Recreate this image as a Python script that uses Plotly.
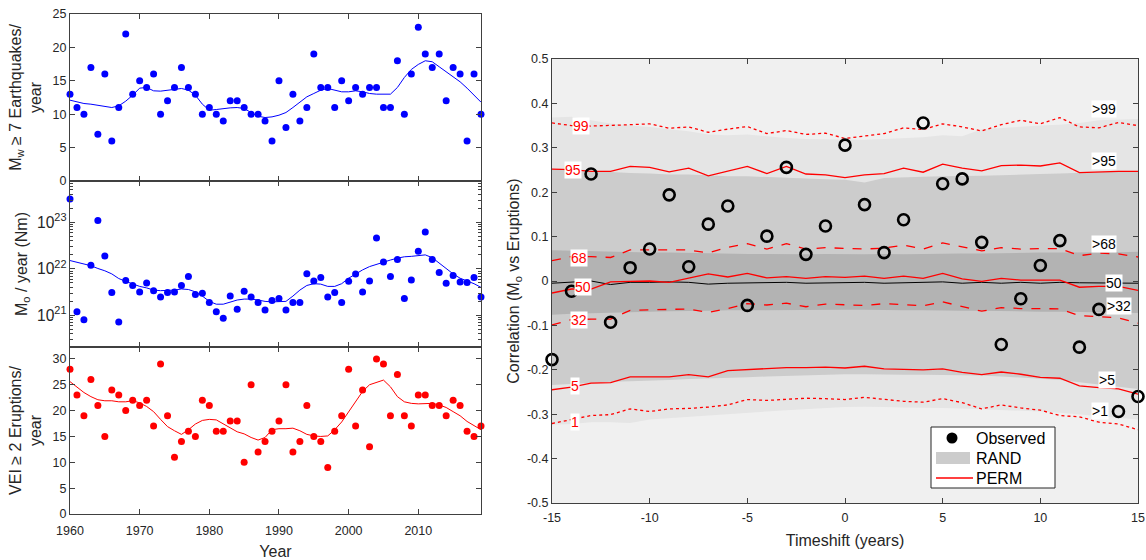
import plotly.graph_objects as go

# ---------------- data: left panels ----------------
years = list(range(1960, 2020))

eq_counts = [13, 11, 10, 17, 7, 16, 6, 11, 22, 13,
             15, 14, 16, 10, 12, 14, 17, 14, 13, 10,
             11, 10, 9, 12, 12, 11, 10, 10, 9, 6,
             15, 8, 13, 9, 11, 19, 14, 14, 11, 15,
             12, 14, 13, 14, 14, 11, 11, 18, 10, 16,
             23, 19, 17, 19, 12, 17, 16, 6, 16, 10]
eq_smooth = [12.1, 11.8, 11.6, 11.5, 11.35, 11.2, 11.0, 11.25, 11.95, 12.85,
             13.9, 14.0, 13.5, 13.45, 13.6, 13.75, 13.85, 13.6, 12.85, 11.5,
             10.6, 10.7, 10.85, 10.95, 11.0, 10.85, 10.25, 9.7, 9.5, 9.6,
             9.85, 10.25, 11.0, 11.85, 12.6, 13.1, 13.6, 13.85, 13.6, 13.35,
             13.35, 13.5, 13.35, 13.1, 13.0, 13.0, 13.0, 14.0, 15.5, 16.7,
             17.45, 18.0, 17.85, 17.1, 16.35, 15.6, 14.85, 13.9, 12.9, 11.8]

mo_values = [3.2e23, 1.2e21, 8.1e20, 1.2e22, 1.1e23, 1.9e22, 3.1e21, 7.2e20, 5.6e21, 4.4e21,
             3.2e21, 5.0e21, 3.4e21, 2.5e21, 3.1e21, 3.2e21, 4.4e21, 6.9e21, 2.8e21, 3.0e21,
             1.9e21, 1.2e21, 8.7e20, 2.6e21, 1.35e21, 3.3e21, 2.5e21, 1.9e21, 1.3e21, 2.1e21,
             2.3e21, 1.3e21, 1.9e21, 1.9e21, 7.9e21, 5.5e21, 6.5e21, 2.5e21, 3.1e21, 1.9e21,
             5.4e21, 7.8e21, 3.2e21, 5.5e21, 4.6e22, 1.4e22, 6.9e21, 1.6e22, 2.3e21, 5.8e21,
             2.4e22, 6.2e22, 1.6e22, 8.4e21, 4.9e21, 7.2e21, 5.2e21, 5.1e21, 6.5e21, 2.5e21]
mo_smooth = [1.51e22, 1.38e22, 1.29e22, 1.17e22, 1.02e22, 9.1e21, 7.8e21, 6.2e21, 5.4e21, 4.7e21,
             4.2e21, 3.9e21, 3.5e21, 3.4e21, 3.4e21, 3.5e21, 3.7e21, 3.6e21, 3.2e21, 2.6e21,
             2.0e21, 1.74e21, 1.74e21, 1.95e21, 2.14e21, 2.24e21, 2.24e21, 2.14e21, 2.0e21, 1.95e21,
             1.95e21, 2.0e21, 2.6e21, 3.5e21, 4.4e21, 4.8e21, 4.7e21, 4.2e21, 4.2e21, 4.8e21,
             6.3e21, 7.8e21, 9.5e21, 1.12e22, 1.26e22, 1.38e22, 1.55e22, 1.7e22, 1.82e22, 1.86e22,
             1.95e22, 2.0e22, 1.74e22, 1.32e22, 1.0e22, 7.8e21, 6.3e21, 5.5e21, 4.8e21, 4.0e21]

vei_counts = [28, 23, 19, 26, 21, 15, 24, 23, 20, 22,
              21, 22, 17, 29, 19, 11, 14, 16, 15, 22,
              21, 16, 16, 18, 18, 10, 25, 12, 14, 16,
              18, 25, 12, 14, 21, 15, 14, 9, 16, 19,
              28, 17, 24, 13, 30, 29, 19, 27, 19, 17,
              23, 23, 21, 21, 19, 22, 21, 16, 15, 17]
vei_smooth = [25.6, 24.5, 23.5, 22.7, 22.1, 21.9, 21.9, 21.7, 21.7, 21.9,
              21.5, 20.8, 19.8, 18.3, 16.9, 16.1, 15.4, 16.3, 17.4, 18.1,
              18.3, 18.2, 17.4, 16.6, 15.9, 15.5, 14.8, 14.3, 14.8, 16.3,
              16.5, 16.5, 16.6, 16.1, 15.4, 15.1, 15.0, 15.1, 16.3, 17.8,
              19.8, 21.7, 23.7, 25.0, 25.4, 25.9, 24.6, 22.7, 21.7, 21.4,
              21.3, 21.3, 21.4, 21.1, 20.6, 19.8, 19.0, 17.9, 17.1, 16.3]

year_ticks = [1960, 1970, 1980, 1990, 2000, 2010]

# ---------------- data: right panel ----------------
timeshift = list(range(-15, 16))
observed = [-0.177, -0.023, 0.241, -0.093, 0.030, 0.072, 0.194, 0.032, 0.128, 0.169,
            -0.055, 0.101, 0.256, 0.060, 0.124, 0.306, 0.172, 0.064, 0.138, 0.356,
            0.219, 0.230, 0.087, -0.143, -0.040, 0.035, 0.091, -0.149, -0.064, -0.294, -0.260]

rand99 = [0.368, 0.370, 0.362, 0.355, 0.350, 0.347, 0.342, 0.337, 0.330, 0.328, 0.330, 0.326,
          0.322, 0.320, 0.319, 0.318, 0.318, 0.320, 0.322, 0.324, 0.328, 0.326, 0.342, 0.345,
          0.348, 0.350, 0.352, 0.356, 0.362, 0.364, 0.365]
rand95 = [0.251, 0.252, 0.248, 0.245, 0.243, 0.242, 0.240, 0.240, 0.238, 0.236, 0.236, 0.234,
          0.232, 0.230, 0.229, 0.228, 0.222, 0.232, 0.234, 0.235, 0.236, 0.236, 0.237, 0.238,
          0.240, 0.241, 0.242, 0.243, 0.245, 0.247, 0.248]
rand68 = [0.069, 0.068, 0.066, 0.065, 0.065, 0.064, 0.064, 0.063, 0.062, 0.062, 0.061, 0.061,
          0.060, 0.060, 0.061, 0.060, 0.060, 0.061, 0.060, 0.061, 0.062, 0.062, 0.062, 0.063,
          0.063, 0.064, 0.064, 0.064, 0.065, 0.065, 0.066]
rand50 = [-0.005, -0.002, 0.000, -0.008, -0.003, -0.003, -0.002, -0.003, -0.007, -0.005, -0.004,
          -0.004, -0.003, -0.005, -0.004, -0.003, -0.003, -0.005, -0.004, -0.002, -0.002, -0.005,
          -0.003, -0.005, -0.003, -0.005, -0.003, -0.004, -0.004, -0.004, -0.005]
rand32 = [-0.076, -0.074, -0.073, -0.072, -0.070, -0.069, -0.068, -0.067, -0.067, -0.066, -0.066,
          -0.066, -0.065, -0.065, -0.065, -0.065, -0.065, -0.065, -0.066, -0.066, -0.066, -0.067,
          -0.067, -0.068, -0.068, -0.069, -0.069, -0.070, -0.070, -0.071, -0.072]
rand5 = [-0.234, -0.232, -0.229, -0.227, -0.226, -0.225, -0.223, -0.221, -0.219, -0.218, -0.217,
         -0.215, -0.213, -0.212, -0.211, -0.210, -0.210, -0.210, -0.211, -0.211, -0.211, -0.212,
         -0.213, -0.215, -0.217, -0.220, -0.223, -0.227, -0.232, -0.238, -0.243]
rand1 = [-0.324, -0.322, -0.318, -0.318, -0.320, -0.312, -0.309, -0.306, -0.303, -0.300, -0.297,
         -0.294, -0.291, -0.288, -0.286, -0.284, -0.283, -0.284, -0.285, -0.286, -0.286, -0.287,
         -0.288, -0.290, -0.292, -0.294, -0.297, -0.300, -0.304, -0.308, -0.312]

perm99 = [0.356, 0.350, 0.349, 0.350, 0.352, 0.354, 0.344, 0.347, 0.335, 0.342, 0.348, 0.332,
          0.339, 0.330, 0.333, 0.321, 0.326, 0.332, 0.345, 0.341, 0.354, 0.347, 0.338, 0.352,
          0.362, 0.354, 0.368, 0.347, 0.345, 0.357, 0.350]
perm95 = [0.252, 0.251, 0.247, 0.247, 0.258, 0.256, 0.246, 0.254, 0.237, 0.247, 0.258, 0.242,
          0.258, 0.241, 0.239, 0.233, 0.239, 0.242, 0.254, 0.245, 0.263, 0.254, 0.248, 0.260,
          0.261, 0.259, 0.266, 0.244, 0.246, 0.247, 0.247]
perm68 = [0.046, 0.055, 0.055, 0.053, 0.070, 0.070, 0.069, 0.070, 0.063, 0.076, 0.084, 0.072,
          0.084, 0.072, 0.075, 0.073, 0.072, 0.074, 0.081, 0.072, 0.086, 0.077, 0.068, 0.075,
          0.072, 0.073, 0.073, 0.057, 0.063, 0.061, 0.054]
perm50 = [-0.027, -0.018, -0.018, -0.002, -0.001, 0.000, -0.003, 0.006, 0.016, 0.009, 0.017,
          0.007, 0.010, 0.006, 0.010, 0.008, 0.011, 0.006, 0.011, 0.006, 0.017, 0.005, -0.001,
          0.006, 0.002, 0.002, 0.002, -0.014, -0.012, -0.012, -0.021]
perm32 = [-0.099, -0.087, -0.086, -0.086, -0.066, -0.065, -0.064, -0.063, -0.071, -0.062, -0.051,
          -0.054, -0.050, -0.058, -0.052, -0.053, -0.055, -0.051, -0.054, -0.056, -0.047, -0.057,
          -0.068, -0.060, -0.062, -0.062, -0.063, -0.078, -0.081, -0.083, -0.095]
perm5 = [-0.245, -0.239, -0.230, -0.229, -0.216, -0.216, -0.216, -0.211, -0.216, -0.202, -0.200,
         -0.197, -0.195, -0.195, -0.194, -0.196, -0.192, -0.198, -0.199, -0.200, -0.198, -0.206,
         -0.211, -0.205, -0.210, -0.217, -0.219, -0.236, -0.240, -0.243, -0.255]
perm1 = [-0.321, -0.312, -0.303, -0.301, -0.288, -0.294, -0.288, -0.287, -0.284, -0.279, -0.267,
         -0.269, -0.267, -0.264, -0.265, -0.267, -0.262, -0.267, -0.271, -0.273, -0.265, -0.274,
         -0.288, -0.279, -0.286, -0.291, -0.303, -0.306, -0.318, -0.322, -0.335]

left_labels = ["99", "95", "68", "50", "32", "5", "1"]
left_label_pos = [(-13.5, 0.350), (-13.9, 0.251), (-13.6, 0.051), (-13.4, -0.014),
                  (-13.6, -0.087), (-13.8, -0.236), (-13.8, -0.317)]
right_labels = [">99", ">95", ">68", "50", ">32", ">5", ">1"]
right_label_pos = [(13.25, 0.388), (13.25, 0.271), (13.25, 0.084), (13.75, -0.004),
                   (14.05, -0.056), (13.4, -0.222), (13.05, -0.292)]

legend_names = ["Observed", "RAND", "PERM"]

y_ticks_right = [-0.5, -0.4, -0.3, -0.2, -0.1, 0, 0.1, 0.2, 0.3, 0.4, 0.5]
y_ticktext_right = ["-0.5", "-0.4", "-0.3", "-0.2", "-0.1", "0", "0.1", "0.2", "0.3", "0.4", "0.5"]
x_ticks_right = [-15, -10, -5, 0, 5, 10, 15]
x_ticktext_right = ["-15", "-10", "-5", "0", "5", "10", "15"]

# ---------------- figure ----------------
W, H = 1146, 560
FONT = "Liberation Sans, Arial, Helvetica, sans-serif"
AXC = "#404040"
TXT = "#262626"
BLUE = "#0000ff"
RED = "#ff0000"


def dx(a, b):
    return [a / W, b / W]


def dy(top, bottom):
    return [1 - bottom / H, 1 - top / H]


fig = go.Figure()

# left panels
fig.add_trace(go.Scatter(x=years, y=eq_counts, mode="markers", xaxis="x", yaxis="y",
                         marker=dict(color=BLUE, size=7), showlegend=False, cliponaxis=False))
fig.add_trace(go.Scatter(x=years, y=eq_smooth, mode="lines", xaxis="x", yaxis="y",
                         line=dict(color=BLUE, width=1), showlegend=False))
fig.add_trace(go.Scatter(x=years, y=mo_values, mode="markers", xaxis="x2", yaxis="y2",
                         marker=dict(color=BLUE, size=7), showlegend=False, cliponaxis=False))
fig.add_trace(go.Scatter(x=years, y=mo_smooth, mode="lines", xaxis="x2", yaxis="y2",
                         line=dict(color=BLUE, width=1), showlegend=False))
fig.add_trace(go.Scatter(x=years, y=vei_counts, mode="markers", xaxis="x3", yaxis="y3",
                         marker=dict(color=RED, size=7), showlegend=False, cliponaxis=False))
fig.add_trace(go.Scatter(x=years, y=vei_smooth, mode="lines", xaxis="x3", yaxis="y3",
                         line=dict(color=RED, width=1), showlegend=False))


# right panel: RAND bands
def band(upper, lower, color):
    return go.Scatter(x=timeshift + timeshift[::-1], y=upper + lower[::-1], fill="toself",
                      fillcolor=color, line=dict(width=0), mode="lines", hoverinfo="skip",
                      xaxis="x4", yaxis="y4", showlegend=False)


fig.add_trace(band(rand99, rand1, "#e5e5e5"))
fig.add_trace(band(rand95, rand5, "#cccccc"))
fig.add_trace(band(rand68, rand32, "#b3b3b3"))
fig.add_trace(go.Scatter(x=timeshift, y=rand50, mode="lines", line=dict(color="#000000", width=1),
                         xaxis="x4", yaxis="y4", showlegend=False))

# PERM lines
for vals, dash in [(perm99, "dot"), (perm95, "solid"), (perm68, "dash"), (perm50, "solid"),
                   (perm32, "dash"), (perm5, "solid"), (perm1, "dot")]:
    fig.add_trace(go.Scatter(x=timeshift, y=vals, mode="lines",
                             line=dict(color=RED, width=1.3, dash=dash),
                             xaxis="x4", yaxis="y4", showlegend=False))

# observed
fig.add_trace(go.Scatter(x=timeshift, y=observed, mode="markers", xaxis="x4", yaxis="y4",
                         marker=dict(symbol="circle-open", size=11, color="#000000",
                                     line=dict(width=2.6, color="#000000")),
                         showlegend=False, cliponaxis=False))

tickfont = dict(family=FONT, size=12.5, color=TXT)
titlefont = dict(family=FONT, size=16, color=TXT)


def axis(**kw):
    base = dict(showline=True, linecolor=AXC, linewidth=1, mirror="ticks", ticks="inside",
                ticklen=5, tickcolor=AXC, tickwidth=1, tickfont=tickfont, showgrid=False,
                zeroline=False, automargin=False)
    base.update(kw)
    return base


LX = dx(70, 481)
fig.update_layout(
    width=W, height=H, margin=dict(l=0, r=0, t=0, b=0),
    paper_bgcolor="white", plot_bgcolor="white", template="none",
    font=dict(family=FONT, color=TXT),
    showlegend=False,
    xaxis=axis(domain=LX, anchor="y", range=[1960, 2019], tickvals=year_ticks, showticklabels=False),
    yaxis=axis(domain=dy(14, 181), anchor="x", range=[0, 25], tickvals=[0, 5, 10, 15, 20, 25],
               title=dict(text="M<sub>w</sub> ≥ 7 Earthquakes/<br>year", font=titlefont, standoff=6)),
    xaxis2=axis(domain=LX, anchor="y2", range=[1960, 2019], tickvals=year_ticks, showticklabels=False),
    yaxis2=axis(domain=dy(181, 347), anchor="x2", type="log", range=[20.32, 23.89], dtick=1,
                exponentformat="power", showexponent="all",
                minor=dict(ticks="inside", ticklen=3, tickcolor=AXC, dtick="D1", showgrid=False),
                title=dict(text="M<sub>o</sub> / year (Nm)", font=titlefont, standoff=5)),
    xaxis3=axis(domain=LX, anchor="y3", range=[1960, 2019], tickvals=year_ticks,
                ticklabelstandoff=5,
                title=dict(text="Year", font=titlefont, standoff=9)),
    yaxis3=axis(domain=dy(347, 514), anchor="x3", range=[0, 32.3], tickvals=[0, 5, 10, 15, 20, 25, 30],
                title=dict(text="VEI ≥ 2 Eruptions/<br>year", font=titlefont, standoff=6)),
    xaxis4=axis(domain=dx(552, 1138), anchor="y4", range=[-15, 15], tickvals=x_ticks_right,
                ticktext=x_ticktext_right, ticklabelstandoff=3,
                title=dict(text="Timeshift (years)", font=titlefont, standoff=10)),
    yaxis4=axis(domain=dy(59, 503), anchor="x4", range=[-0.5, 0.5], tickvals=y_ticks_right,
                ticktext=y_ticktext_right,
                title=dict(text="Correlation (M<sub>o</sub> vs Eruptions)", font=titlefont, standoff=3)),
)

# right panel background
fig.add_shape(type="rect", xref="x4 domain", yref="y4 domain", x0=0, x1=1, y0=0, y1=1,
              fillcolor="#f0f0f0", line=dict(width=0), layer="below")

for txt, (xx, yy) in zip(left_labels, left_label_pos):
    fig.add_annotation(x=xx, y=yy, xref="x4", yref="y4", text=txt, showarrow=False,
                       font=dict(family=FONT, size=14, color=RED), bgcolor="white", borderpad=0)
for txt, (xx, yy) in zip(right_labels, right_label_pos):
    fig.add_annotation(x=xx, y=yy, xref="x4", yref="y4", text=txt, showarrow=False,
                       font=dict(family=FONT, size=14, color="#000000"), bgcolor="white", borderpad=0)


# legend box (drawn in paper coordinates)
def px(x):
    return x / W


def py(y):
    return 1 - y / H


fig.add_shape(type="rect", xref="paper", yref="paper", x0=px(931), x1=px(1055), y0=py(488), y1=py(427),
              fillcolor="white", line=dict(color=TXT, width=1), layer="above")
fig.add_shape(type="circle", xref="paper", yref="paper", x0=px(946.5), x1=px(957.5), y0=py(443.5),
              y1=py(432.5), fillcolor="#000000", line=dict(color="#000000", width=0), layer="above")
fig.add_shape(type="rect", xref="paper", yref="paper", x0=px(936), x1=px(970), y0=py(464), y1=py(452),
              fillcolor="#cccccc", line=dict(width=0), layer="above")
fig.add_shape(type="line", xref="paper", yref="paper", x0=px(936), x1=px(973), y0=py(478), y1=py(478),
              line=dict(color=RED, width=1.3), layer="above")
for name, yy in zip(legend_names, [438, 458, 478]):
    fig.add_annotation(x=px(974), y=py(yy), xref="paper", yref="paper", text=name, showarrow=False,
                       xanchor="left", yanchor="middle",
                       font=dict(family=FONT, size=16, color="#000000"))

fig.write_html("out.html")
